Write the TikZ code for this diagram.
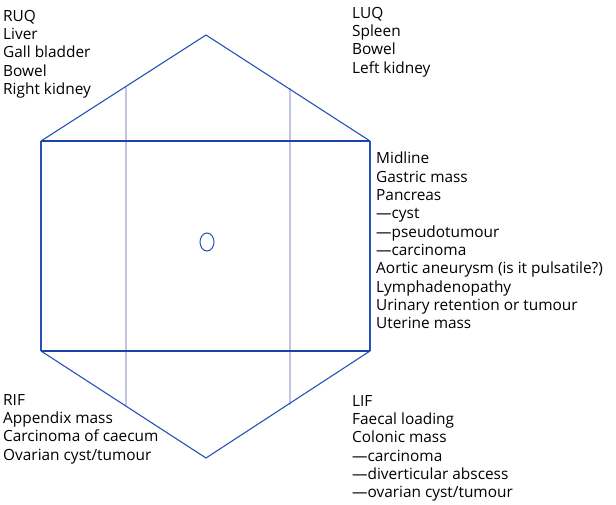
\documentclass[tikz,border=0pt]{standalone}
\usepackage{fontspec}
\setmainfont{Open Sans}

\definecolor{hexblue}{HTML}{2452B8}
\definecolor{bandblue}{HTML}{1A44A8}
\definecolor{lilac}{HTML}{C4C4E4}

\tikzset{
  region/.style={anchor=north west,inner sep=0pt,align=left,
    font=\fontsize{15.4}{18.3}\selectfont},
  outline/.style={hexblue,line width=1.1pt},
  band/.style={bandblue,line width=1.6pt},
  divide/.style={lilac,line width=1.6pt}
}

\begin{document}
\begin{tikzpicture}[x=1pt,y=-1pt]
  \useasboundingbox (0,0) rectangle (616,504);
  \draw [divide](126,86)--(126,406);
  \draw [divide](290,88)--(290,405);
  \draw [outline](41,141)--(206,35)--(370,141);
  \draw [outline](41,351)--(206,458)--(370,351);
  \draw [outline](41,141)--(41,351);
  \draw [outline](370,141)--(370,351);
  \draw [band](41,141)--(370,141);
  \draw [band](41,351)--(370,351);
  \draw [hexblue,line width=1pt](207,242) ellipse (7 and 9);
  \node [region] (ruq) at (3,10) {RUQ\\Liver\\Gall bladder\\Bowel\\Right kidney};
  \node [region] (luq) at (352,7) {LUQ\\Spleen\\Bowel\\Left kidney};
  \node [region] (mid) at (376,152) {Midline\\Gastric mass\\Pancreas\\---cyst\\---pseudotumour\\---carcinoma\\Aortic aneurysm (is it pulsatile?)\\Lymphadenopathy\\Urinary retention or tumour\\Uterine mass};
  \node [region] (rif) at (3,394) {RIF\\Appendix mass\\Carcinoma of caecum\\Ovarian cyst/tumour};
  \node [region] (lif) at (352,395) {LIF\\Faecal loading\\Colonic mass\\---carcinoma\\---diverticular abscess\\---ovarian cyst/tumour};
\end{tikzpicture}
\end{document}
